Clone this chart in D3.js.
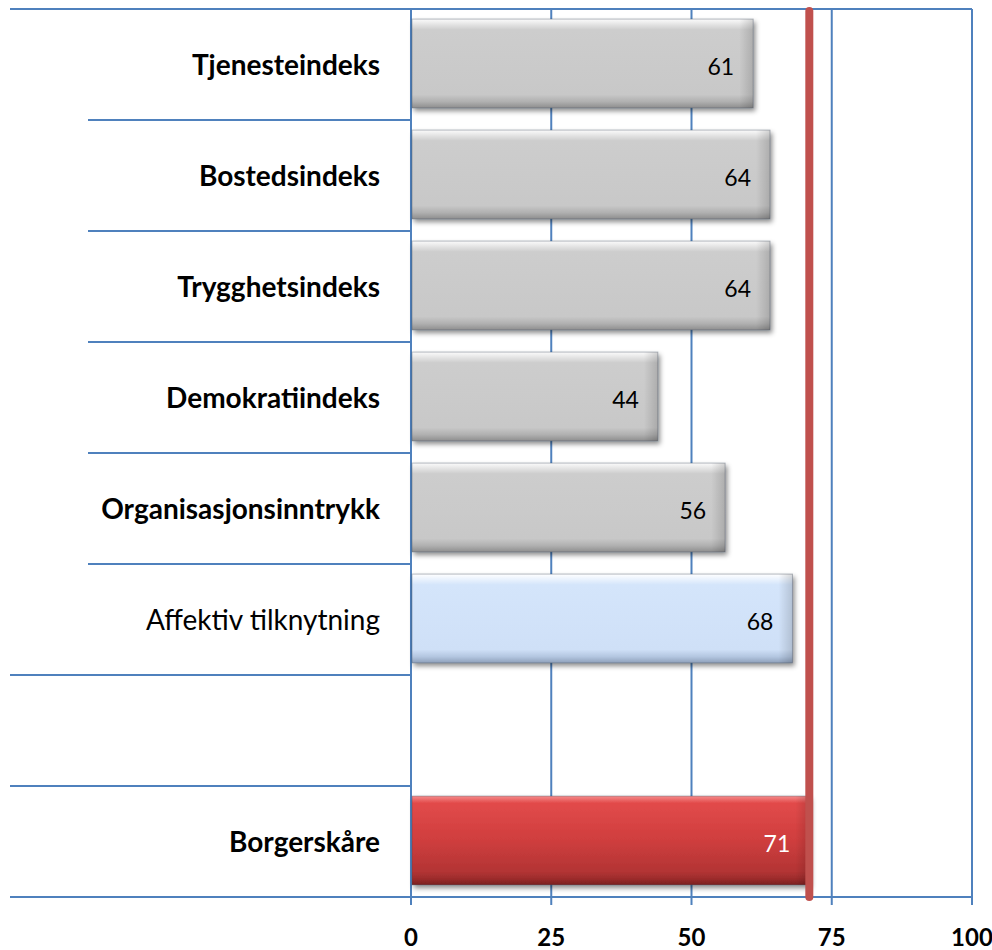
<!DOCTYPE html>
<html>
<head>
<meta charset="utf-8">
<script src="https://cdn.jsdelivr.net/npm/d3@7"></script>
<style>
  body { margin: 0; background: #fff; }
  svg { display: block; }
</style>
</head>
<body>
<div id="chart"></div>
<script>
const width = 992, height = 950;

// Data
const categories = ["Tjenesteindeks", "Bostedsindeks", "Trygghetsindeks", "Demokratiindeks",
                    "Organisasjonsinntrykk", "Affektiv tilknytning", "", "Borgerskåre"];
const values = [61, 64, 64, 44, 56, 68, null, 71];
const kinds = ["index", "index", "index", "index", "index", "affect", "blank", "total"];
const boldLabel = [true, true, true, true, true, false, false, true];
const xTicks = [0, 25, 50, 75, 100];
const referenceValue = 71;

const rows = categories.map((c, i) => ({ key: i, name: c, value: values[i], kind: kinds[i], bold: boldLabel[i] }));

const margin = { left: 411, right: 20, top: 9, bottom: 53 };
const labelLineStart = 10, labelLineIndent = 88;
const gridColour = "#4f81bd";

const x = d3.scaleLinear().domain([0, 100]).range([margin.left, 972]);
const y = d3.scaleBand().domain(rows.map(d => d.key))
    .range([margin.top, height - margin.bottom]).paddingInner(0.2).paddingOuter(0.1);
const band = d3.scaleBand().domain(rows.map(d => d.key)).range([margin.top, height - margin.bottom]);

const svg = d3.select("#chart").append("svg")
    .attr("width", width).attr("height", height);

const defs = svg.append("defs");

const shadow = defs.append("filter").attr("id", "shadow")
    .attr("x", "-5%").attr("y", "-10%").attr("width", "115%").attr("height", "140%");
shadow.append("feDropShadow").attr("dx", 2).attr("dy", 3)
    .attr("stdDeviation", 2.5).attr("flood-color", "#000").attr("flood-opacity", 0.45);

// vertical bevel gradients
function bevel(id, stops) {
  const g = defs.append("linearGradient").attr("id", id)
      .attr("x1", 0).attr("y1", 0).attr("x2", 0).attr("y2", 1);
  stops.forEach(s => g.append("stop").attr("offset", s[0]).attr("stop-color", s[1]));
}
bevel("g-index", [[0, "#fbfbfb"], [0.07, "#e0e0e0"], [0.12, "#cdcdcd"], [0.85, "#c8c8c8"], [0.93, "#b0b0b0"], [1, "#8e8e8e"]]);
bevel("g-affect", [[0, "#ffffff"], [0.07, "#e6f0fd"], [0.12, "#d4e5fb"], [0.85, "#cfe0f7"], [0.93, "#b3c6e0"], [1, "#8ea0ba"]]);
bevel("g-total", [[0, "#f58a8a"], [0.08, "#e24a4a"], [0.5, "#cf3e3e"], [0.85, "#b33434"], [0.93, "#9c2c2c"], [1, "#7a2020"]]);

// right edge darkening
const side = defs.append("linearGradient").attr("id", "g-side")
    .attr("x1", 0).attr("y1", 0).attr("x2", 1).attr("y2", 0);
side.append("stop").attr("offset", 0).attr("stop-color", "#000").attr("stop-opacity", 0);
side.append("stop").attr("offset", 1).attr("stop-color", "#000").attr("stop-opacity", 0.25);

// vertical gridlines
svg.append("g").selectAll("line")
  .data(xTicks).join("line")
    .attr("x1", d => x(d)).attr("x2", d => x(d))
    .attr("y1", margin.top).attr("y2", height - margin.bottom + 8)
    .attr("stroke", gridColour).attr("stroke-width", 2);

// category separator lines in the label area
const boundaries = d3.range(rows.length + 1);
svg.append("g").selectAll("line")
  .data(boundaries).join("line")
    .attr("x1", i => (i === 0 || i >= 6) ? labelLineStart : labelLineIndent)
    .attr("x2", i => (i === 0 || i === rows.length) ? x(100) : margin.left)
    .attr("y1", i => i < rows.length ? band(i) : band(rows.length - 1) + band.bandwidth())
    .attr("y2", i => i < rows.length ? band(i) : band(rows.length - 1) + band.bandwidth())
    .attr("stroke", gridColour).attr("stroke-width", 2);

// bars
const bars = svg.append("g").selectAll("g")
  .data(rows.filter(d => d.value != null)).join("g");

bars.append("rect")
    .attr("x", x(0) + 1).attr("y", d => y(d.key) - 1)
    .attr("width", d => x(d.value) - x(0) - 1).attr("height", y.bandwidth())
    .attr("fill", d => "url(#g-" + d.kind + ")")
    .attr("stroke", "rgba(60,70,90,0.35)").attr("stroke-width", 1)
    .attr("filter", "url(#shadow)");

bars.append("rect")
    .attr("x", d => x(d.value) - 14).attr("y", d => y(d.key) - 1)
    .attr("width", 14).attr("height", y.bandwidth())
    .attr("fill", "url(#g-side)").attr("opacity", 0.6);

bars.append("text")
    .attr("x", d => x(d.value) - 19)
    .attr("y", d => band(d.key) + band.bandwidth() / 2 + 10)
    .attr("text-anchor", "end")
    .attr("font-family", "Lato, 'Open Sans', sans-serif")
    .attr("font-size", 23)
    .attr("fill", d => d.kind === "total" ? "#fff" : "#000")
    .text(d => d.value);

// reference line
svg.append("line")
    .attr("x1", x(referenceValue)).attr("x2", x(referenceValue))
    .attr("y1", margin.top + 2).attr("y2", height - margin.bottom)
    .attr("stroke", "#c0504d").attr("stroke-width", 8)
    .attr("stroke-linecap", "round");

// category labels
svg.append("g").selectAll("text")
  .data(rows).join("text")
    .attr("x", 380)
    .attr("y", d => band(d.key) + band.bandwidth() / 2 + 10)
    .attr("text-anchor", "end")
    .attr("font-family", "Lato, 'Open Sans', sans-serif")
    .attr("font-size", 28)
    .attr("font-weight", d => d.bold ? "bold" : "normal")
    .attr("fill", "#000")
    .text(d => d.name);

// x tick labels
svg.append("g").selectAll("text")
  .data(xTicks).join("text")
    .attr("x", d => x(d)).attr("y", 946)
    .attr("text-anchor", "middle")
    .attr("font-family", "Lato, 'Open Sans', sans-serif")
    .attr("font-size", 24)
    .attr("font-weight", "bold")
    .text(d => d);
</script>
</body>
</html>
